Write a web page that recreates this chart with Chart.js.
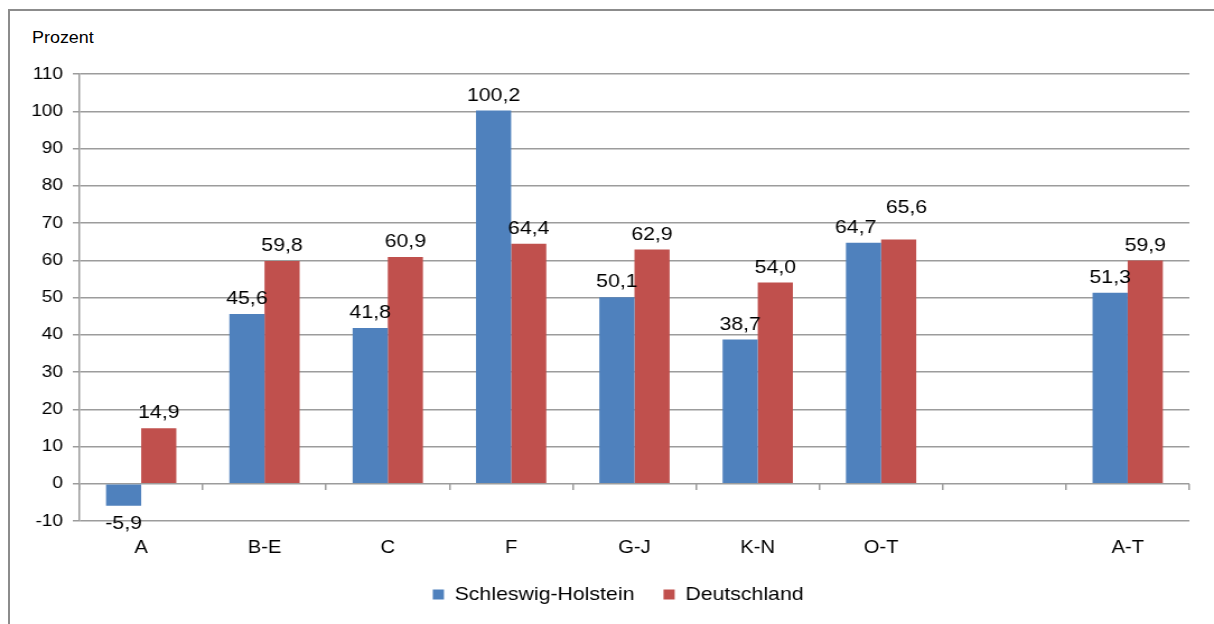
<!DOCTYPE html>
<html lang="de">
<head>
<meta charset="utf-8">
<title>Prozent</title>
<script src="https://cdn.jsdelivr.net/npm/chart.js@4/dist/chart.umd.min.js"></script>
<style>
  html, body { margin: 0; padding: 0; background: #fff; overflow: hidden; }
  body { width: 1214px; height: 624px; position: relative; font-family: "Liberation Sans", Arial, sans-serif; }
  .frame { position: absolute; left: 8px; top: 9px; width: 1300px; height: 700px; border: 2px solid #8c8c8c; }
  .unit { position: absolute; left: 32px; top: 29px; font-size: 16px; color: #000; transform: scaleX(1.12); transform-origin: left top; }
  /* the source picture is stretched a little horizontally, so the canvas is too */
  #chart { position: absolute; left: 0; top: 0; width: 1214px; height: 624px; }
</style>
</head>
<body>
<div class="frame"></div>
<div class="unit">Prozent</div>
<canvas id="chart" width="1084" height="624" style="width:1214px;height:624px"></canvas>
<script>
const categories = ["A", "B-E", "C", "F", "G-J", "K-N", "O-T", "", "A-T"];
const schleswigHolstein = [-5.9, 45.6, 41.8, 100.2, 50.1, 38.7, 64.7, null, 51.3];
const deutschland = [14.9, 59.8, 60.9, 64.4, 62.9, 54.0, 65.6, null, 59.9];
const yMin = -10;
const yMax = 110;
const yStep = 10;

const gridColor = "#9c9c9c";
const family = "'Liberation Sans', Arial, sans-serif";

// widest y tick label, so the mirrored labels can sit right-aligned left of the axis
const measure = document.createElement("canvas").getContext("2d");
measure.font = "17px " + family;
const widestTick = measure.measureText(String(yMax)).width;

// value labels above (or below for negative) each bar, nudged apart when two collide
const valueLabels = {
  id: "valueLabels",
  afterDatasetsDraw(chart) {
    const ctx = chart.ctx;
    ctx.save();
    ctx.font = "19px " + family;
    ctx.fillStyle = "#000";
    ctx.textAlign = "center";
    ctx.textBaseline = "middle";
    chart.data.labels.forEach((_, j) => {
      const items = [];
      chart.data.datasets.forEach((ds, i) => {
        const v = ds.data[j];
        if (v === null || v === undefined) return;
        const bar = chart.getDatasetMeta(i).data[j];
        const txt = v.toFixed(1).replace(".", ",");
        items.push({
          txt: txt,
          x: bar.x,
          y: v >= 0 ? bar.y - 15 : bar.y + 18,
          w: ctx.measureText(txt).width
        });
      });
      if (items.length === 2) {
        const [a, b] = items;
        const overlapX = Math.abs(a.x - b.x) < (a.w + b.w) / 2;
        if (overlapX && Math.abs(a.y - b.y) < 20) {
          const hi = a.y <= b.y ? a : b;
          const lo = hi === a ? b : a;
          hi.y = lo.y - 20;
          a.x -= 7;
          b.x += 7;
        }
      }
      items.forEach(it => ctx.fillText(it.txt, it.x, it.y));
    });
    ctx.restore();
  }
};

new Chart(document.getElementById("chart"), {
  type: "bar",
  data: {
    labels: categories,
    datasets: [
      {
        label: "Schleswig-Holstein",
        data: schleswigHolstein,
        backgroundColor: "#4f81bd",
        xAxisID: "x",
        categoryPercentage: 0.57,
        barPercentage: 1.0
      },
      {
        label: "Deutschland",
        data: deutschland,
        backgroundColor: "#c0504d",
        xAxisID: "x",
        categoryPercentage: 0.57,
        barPercentage: 1.0
      }
    ]
  },
  options: {
    responsive: false,
    animation: false,
    devicePixelRatio: 1,
    layout: { padding: { top: 74, right: 22, bottom: 10, left: 42 } },
    plugins: {
      legend: {
        position: "bottom",
        labels: {
          color: "#000",
          font: { family: family, size: 19 },
          boxWidth: 10,
          boxHeight: 10,
          padding: 26
        }
      },
      tooltip: { enabled: false }
    },
    scales: {
      x: {
        position: "bottom",
        offset: true,
        afterFit(scale) { scale.height = 38; },
        grid: { display: false, drawTicks: false, tickLength: 0 },
        border: { display: false },
        ticks: { color: "#000", font: { family: family, size: 18 }, padding: 16 }
      },
      xZero: {
        type: "category",
        axis: "x",
        position: { y: 0 },
        offset: true,
        grid: { offset: true, drawOnChartArea: false, tickLength: 6, color: gridColor, lineWidth: 1.5 },
        border: { display: false },
        ticks: { display: false }
      },
      y: {
        min: yMin,
        max: yMax,
        afterFit(scale) { scale.width = 29; },
        ticks: {
          stepSize: yStep,
          color: "#000",
          font: { family: family, size: 17 },
          mirror: true,
          crossAlign: "far",
          padding: -(16 + widestTick)
        },
        grid: { color: gridColor, lineWidth: 1.5, tickLength: 6 },
        border: { color: gridColor, width: 1.5 }
      }
    }
  },
  plugins: [valueLabels]
});
</script>
</body>
</html>
